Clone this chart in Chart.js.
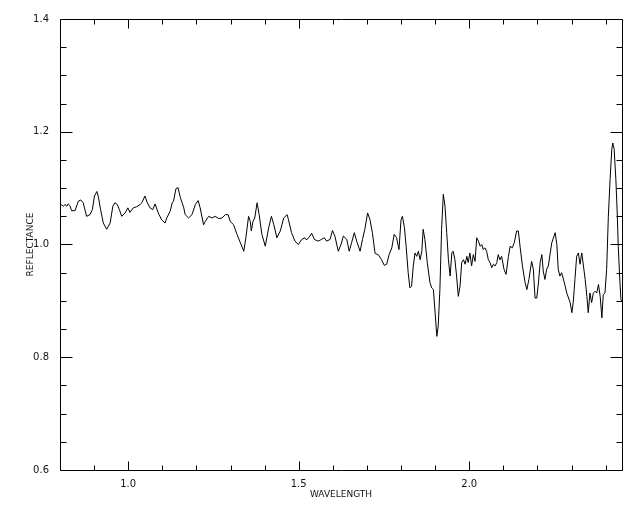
<!DOCTYPE html>
<html>
<head>
<meta charset="utf-8">
<script src="https://cdn.jsdelivr.net/npm/chart.js@4/dist/chart.umd.min.js"></script>
<style>
  html, body { margin: 0; padding: 0; background: #fff; }
  #wrap { width: 640px; height: 512px; }
</style>
</head>
<body>
<div id="wrap"><canvas id="c" width="640" height="512"></canvas></div>
<script>
// ---- Data ----
const wavelength = [
  0.800,0.810,0.815,0.820,0.824,0.829,0.834,0.844,0.854,0.861,0.868,0.878,0.888,0.895,0.901,0.908,0.912,0.919,0.927,0.937,
  0.947,0.955,0.961,0.968,0.974,0.981,0.991,0.999,1.005,1.015,1.025,1.035,1.040,1.049,1.056,1.064,1.072,1.079,1.088,1.098,
  1.108,1.113,1.123,1.129,1.133,1.140,1.146,1.153,1.163,1.167,1.177,1.187,1.197,1.205,1.211,1.221,1.226,1.236,1.246,1.255,
  1.265,1.275,1.285,1.293,1.299,1.309,1.319,1.329,1.339,1.345,1.353,1.358,1.361,1.366,1.371,1.378,1.384,1.392,1.402,1.412,
  1.420,1.427,1.436,1.446,1.456,1.466,1.470,1.479,1.489,1.499,1.509,1.518,1.523,1.533,1.538,1.546,1.557,1.567,1.575,1.582,
  1.592,1.599,1.606,1.616,1.624,1.631,1.641,1.648,1.655,1.663,1.670,1.680,1.687,1.694,1.702,1.709,1.716,1.724,1.733,1.743,
  1.751,1.758,1.765,1.773,1.780,1.787,1.794,1.800,1.804,1.810,1.815,1.821,1.826,1.831,1.836,1.841,1.846,1.851,1.856,1.861,
  1.865,1.870,1.877,1.885,1.890,1.895,1.900,1.905,1.909,1.914,1.919,1.924,1.929,1.934,1.939,1.944,1.949,1.953,1.958,1.963,
  1.968,1.973,1.978,1.983,1.988,1.993,1.997,2.002,2.007,2.012,2.017,2.022,2.027,2.032,2.037,2.041,2.046,2.051,2.056,2.061,
  2.066,2.071,2.076,2.081,2.085,2.090,2.095,2.102,2.108,2.115,2.120,2.126,2.132,2.139,2.144,2.149,2.156,2.164,2.169,2.175,
  2.183,2.188,2.193,2.198,2.203,2.208,2.213,2.217,2.222,2.227,2.232,2.242,2.252,2.257,2.261,2.266,2.271,2.279,2.286,2.296,
  2.301,2.305,2.310,2.315,2.320,2.325,2.330,2.335,2.340,2.345,2.349,2.354,2.359,2.364,2.369,2.374,2.379,2.384,2.389,2.393,
  2.398,2.403,2.408,2.413,2.418,2.421,2.425,2.430,2.434,2.437,2.442,2.445,2.448
];
const reflectance = [
  1.072,1.068,1.071,1.068,1.072,1.069,1.060,1.060,1.077,1.079,1.074,1.050,1.053,1.062,1.086,1.094,1.086,1.062,1.038,1.027,
  1.038,1.068,1.074,1.071,1.062,1.050,1.056,1.065,1.057,1.065,1.067,1.071,1.074,1.086,1.074,1.065,1.062,1.072,1.056,1.044,
  1.038,1.047,1.059,1.074,1.077,1.099,1.101,1.083,1.065,1.053,1.047,1.053,1.071,1.078,1.065,1.035,1.041,1.050,1.047,1.050,
  1.046,1.047,1.053,1.053,1.041,1.035,1.018,1.003,0.988,1.012,1.050,1.041,1.024,1.041,1.047,1.074,1.053,1.018,0.997,1.030,
  1.050,1.035,1.012,1.024,1.047,1.053,1.044,1.021,1.006,1.000,1.009,1.012,1.008,1.015,1.020,1.009,1.006,1.009,1.012,1.006,
  1.009,1.025,1.015,0.988,1.000,1.015,1.009,0.988,1.003,1.021,1.006,0.988,1.009,1.027,1.056,1.044,1.021,0.984,0.982,0.973,
  0.963,0.965,0.982,0.994,1.018,1.012,0.991,1.044,1.050,1.030,0.997,0.950,0.923,0.926,0.962,0.985,0.979,0.988,0.973,0.988,
  1.027,1.009,0.968,0.932,0.923,0.920,0.879,0.837,0.855,0.920,1.027,1.089,1.068,1.021,0.973,0.944,0.985,0.988,0.973,0.944,
  0.908,0.926,0.968,0.973,0.965,0.979,0.968,0.985,0.962,0.982,0.970,1.012,1.006,0.997,1.000,0.991,0.994,0.988,0.973,0.968,
  0.959,0.965,0.962,0.968,0.982,0.973,0.979,0.956,0.947,0.979,0.997,0.994,1.003,1.024,1.024,0.997,0.962,0.932,0.920,0.938,
  0.970,0.956,0.905,0.905,0.932,0.968,0.982,0.953,0.938,0.956,0.962,1.003,1.021,1.000,0.956,0.944,0.950,0.932,0.914,0.897,
  0.879,0.897,0.938,0.979,0.985,0.965,0.985,0.962,0.938,0.908,0.879,0.914,0.897,0.914,0.917,0.914,0.929,0.908,0.870,0.911,
  0.914,0.956,1.050,1.115,1.169,1.180,1.169,1.115,1.056,0.997,0.932,0.902,0.899
];

// ---- Axis ticks / labels ----
const xMajorTicks = [1.0, 1.5, 2.0];
const xMinorTicks = [0.9, 1.1, 1.2, 1.3, 1.4, 1.6, 1.7, 1.8, 1.9, 2.1, 2.2, 2.3, 2.4];
const yMajorTicks = [0.6, 0.8, 1.0, 1.2, 1.4];
const yMinorTicks = [0.65, 0.7, 0.75, 0.85, 0.9, 0.95, 1.05, 1.1, 1.15, 1.25, 1.3, 1.35];
const xTitle = 'WAVELENGTH';
const yTitle = 'REFLECTANCE';

const points = wavelength.map((w, i) => ({ x: w, y: reflectance[i] }));

// Draws the closed frame and inward ticks on all four sides, positioned by the chart's scales
const framePlugin = {
  id: 'frameTicks',
  afterDraw(chart) {
    const ctx = chart.ctx;
    const a = chart.chartArea;
    const xs = chart.scales.x, ys = chart.scales.y;
    const L = Math.round(a.left) + 0.5, R = Math.round(a.right) + 0.5;
    const T = Math.round(a.top) + 0.5, B = Math.round(a.bottom) + 0.5;
    ctx.save();
    ctx.strokeStyle = '#000';
    ctx.lineWidth = 1;
    ctx.beginPath();
    ctx.rect(L, T, R - L, B - T);
    const xt = (vals, len) => vals.forEach(v => {
      const px = Math.round(xs.getPixelForValue(v)) + 0.5;
      ctx.moveTo(px, B); ctx.lineTo(px, B - len);
      ctx.moveTo(px, T); ctx.lineTo(px, T + len);
    });
    const yt = (vals, len) => vals.forEach(v => {
      const py = Math.round(ys.getPixelForValue(v)) + 0.5;
      ctx.moveTo(L, py); ctx.lineTo(L + len, py);
      ctx.moveTo(R, py); ctx.lineTo(R - len, py);
    });
    xt(xMajorTicks, 9); xt(xMinorTicks, 5);
    yt(yMajorTicks, 12); yt(yMinorTicks, 6);
    ctx.stroke();
    ctx.restore();
  }
};

const tickFont = { family: 'DejaVu Sans', size: 10 };
const titleFont = { family: 'DejaVu Sans', size: 9 };

new Chart(document.getElementById('c'), {
  type: 'line',
  data: {
    datasets: [{
      data: points,
      borderColor: '#000',
      borderWidth: 1,
      pointRadius: 0,
      tension: 0,
      fill: false
    }]
  },
  options: {
    responsive: false,
    animation: false,
    events: [],
    parsing: false,
    layout: { padding: { left: 0, right: 18, top: 19, bottom: 0 } },
    plugins: { legend: { display: false }, tooltip: { enabled: false } },
    scales: {
      x: {
        type: 'linear',
        min: 0.8,
        max: 2.448,
        grid: { display: false },
        border: { display: false },
        afterBuildTicks: s => { s.ticks = xMajorTicks.map(v => ({ value: v })); },
        afterFit: s => { s.height = 42; },
        ticks: {
          autoSkip: false,
          maxRotation: 0,
          padding: 0,
          color: '#111',
          font: tickFont,
          callback: v => Number(v).toFixed(1)
        },
        title: {
          display: true,
          text: xTitle,
          color: '#111',
          font: titleFont,
          padding: { top: 0, bottom: 12 }
        }
      },
      y: {
        type: 'linear',
        min: 0.6,
        max: 1.4,
        grid: { display: false },
        border: { display: false },
        afterBuildTicks: s => { s.ticks = yMajorTicks.map(v => ({ value: v })); },
        afterFit: s => { s.width = 60; },
        ticks: {
          autoSkip: false,
          padding: 3,
          color: '#111',
          font: tickFont,
          callback: v => Number(v).toFixed(1)
        },
        title: {
          display: true,
          text: yTitle,
          color: '#111',
          font: titleFont,
          padding: { top: 25, bottom: 0 }
        }
      }
    }
  },
  plugins: [framePlugin]
});
</script>
</body>
</html>
